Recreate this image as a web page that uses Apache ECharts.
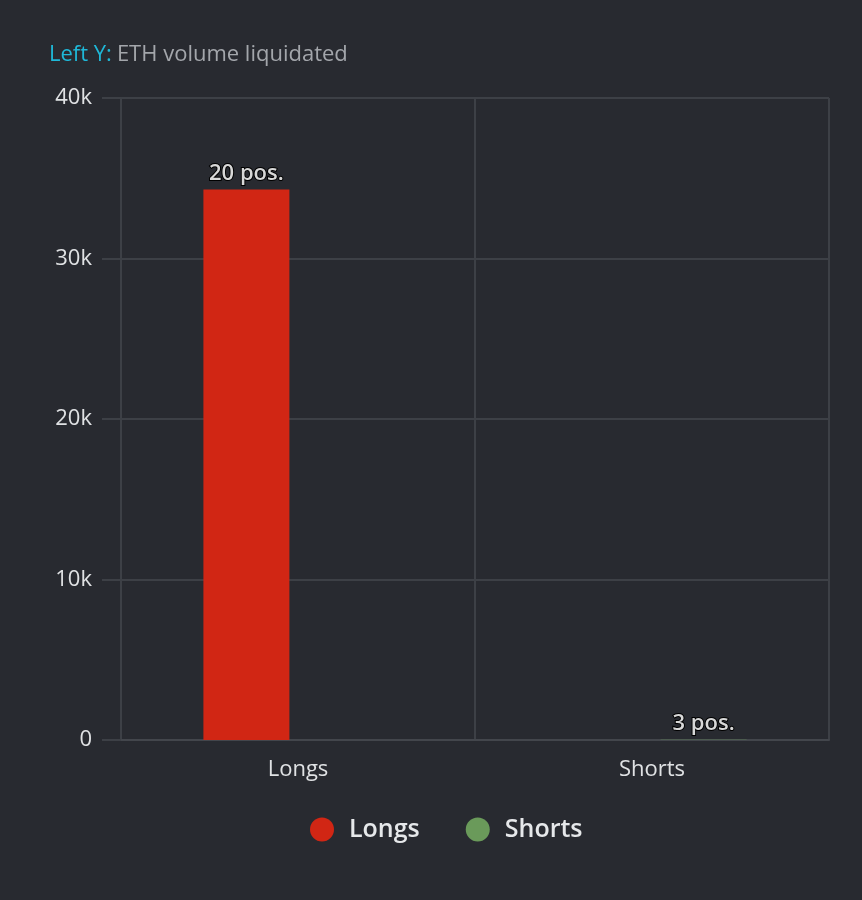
<!DOCTYPE html>
<html><head><meta charset="utf-8">
<script src="https://cdn.jsdelivr.net/npm/echarts@6/dist/echarts.min.js"></script>
<style>html,body{margin:0;padding:0;background:#282a30;}#c{width:862px;height:900px;}</style>
</head><body><div id="c"></div>
<script>
const categories = ['Longs', 'Shorts'];
const longsValues = [34300, null];
const shortsValues = [null, 10];
const positionCounts = { Longs: 20, Shorts: 3 };
const yTicks = [0, 10000, 20000, 30000, 40000];

const FONT = '"Open Sans", "Noto Sans", sans-serif';
const chart = echarts.init(document.getElementById('c'));
const labelCfg = (name) => ({
  show: true, position: 'top', distance: 5,
  formatter: () => positionCounts[name] + ' pos.',
  color: '#d8d8d8', fontSize: 22, fontWeight: 600, fontFamily: FONT,
  textBorderColor: '#000', textBorderWidth: 2
});
chart.setOption({
  backgroundColor: '#282a30',
  animation: false,
  title: {
    text: '{a|Left Y:} {b|ETH volume liquidated}',
    left: 44, top: 39,
    textStyle: { fontWeight: 'normal', rich: {
      a: { color: '#1fb8d8', fontSize: 22, fontWeight: 'normal', fontFamily: FONT },
      b: { color: '#a3a6ab', fontSize: 22, fontWeight: 'normal', fontFamily: FONT }
    } }
  },
  legend: {
    bottom: 53, left: 305, icon: 'circle', itemWidth: 24, itemHeight: 24, itemGap: 46,
    textStyle: { color: '#e6e8ea', fontSize: 25, fontWeight: 600, fontFamily: FONT, padding: [0, 0, 0, 10] },
    data: ['Longs', 'Shorts']
  },
  grid: { left: 121, right: 33, top: 98, bottom: 160, containLabel: false },
  xAxis: {
    type: 'category', data: categories,
    axisLine: { show: true, lineStyle: { color: '#43464c', width: 2 } },
    axisTick: { show: false },
    splitLine: { show: true, lineStyle: { color: '#3d4046', width: 2 } },
    axisLabel: { color: '#e0e2e4', fontSize: 22, fontFamily: FONT, margin: 19 }
  },
  yAxis: {
    type: 'value', min: 0, max: 40000, interval: 10000,
    axisLine: { show: true, lineStyle: { color: '#3d4046', width: 2 } },
    axisTick: { show: true, length: 19, lineStyle: { color: '#3d4046', width: 2 } },
    splitLine: { show: true, lineStyle: { color: '#3d4046', width: 2 } },
    axisLabel: { color: '#e0e2e4', fontSize: 22, fontFamily: FONT, margin: 29,
      formatter: v => yTicks.includes(v) ? (v === 0 ? '0' : (v / 1000) + 'k') : '' }
  },
  series: [
    { name: 'Longs', type: 'bar', data: longsValues, barWidth: 86, barGap: '20%',
      itemStyle: { color: '#d12614' }, label: labelCfg('Longs') },
    { name: 'Shorts', type: 'bar', data: shortsValues, barWidth: 86,
      itemStyle: { color: '#6a9a5a' }, label: labelCfg('Shorts') }
  ]
});
</script></body></html>
